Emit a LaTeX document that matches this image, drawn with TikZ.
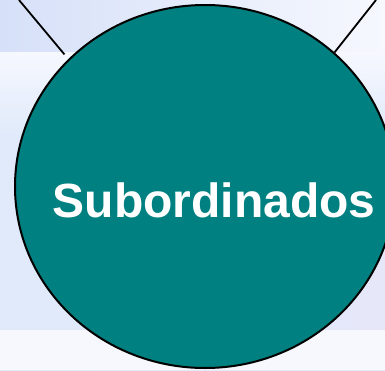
\documentclass[tikz,border=0pt]{standalone}
\usepackage{fontspec}
\setmainfont{Liberation Sans}
\usepackage{xcolor}
\usetikzlibrary{shapes.geometric,positioning}
\definecolor{tealfill}{RGB}{0,128,128}
\definecolor{bgblue}{RGB}{214,224,248}
\definecolor{bgmid}{RGB}{224,234,250}
\definecolor{bgright}{RGB}{230,232,250}
\definecolor{bgwhite}{RGB}{246,248,254}

\begin{document}
\begin{tikzpicture}[x=1pt,y=-1pt]
  % 背景
  \useasboundingbox (0,0) rectangle (385,370);
  \shade[left color=bgmid,right color=bgright] (0,0) rectangle (385,370);
  \shade[left color=bgblue,right color=bgwhite] (0,0) rectangle (385,52);
  \shade[top color=bgwhite,bottom color=bgmid] (0,52) rectangle (385,135);
  \fill[bgwhite] (0,330) rectangle (385,370);
  % 圆
  \node[ellipse,draw=black,line width=2pt,fill=tealfill,
        minimum width=380pt,minimum height=363pt,inner sep=0pt] (sub) at (205,186.5) {};
  \node[text=white,font=\bfseries\fontsize{48}{48}\selectfont,inner sep=0pt] (subtxt) at (214,200) {Subordinados};
  % 两条连线
  \coordinate (tl) at (19,0);
  \coordinate (tr) at (376,0);
  \draw[line width=1.8pt,shorten >=6pt] (tl) -- (sub.137);
  \draw[line width=1.8pt] (tr) -- (sub.46);
\end{tikzpicture}
\end{document}
